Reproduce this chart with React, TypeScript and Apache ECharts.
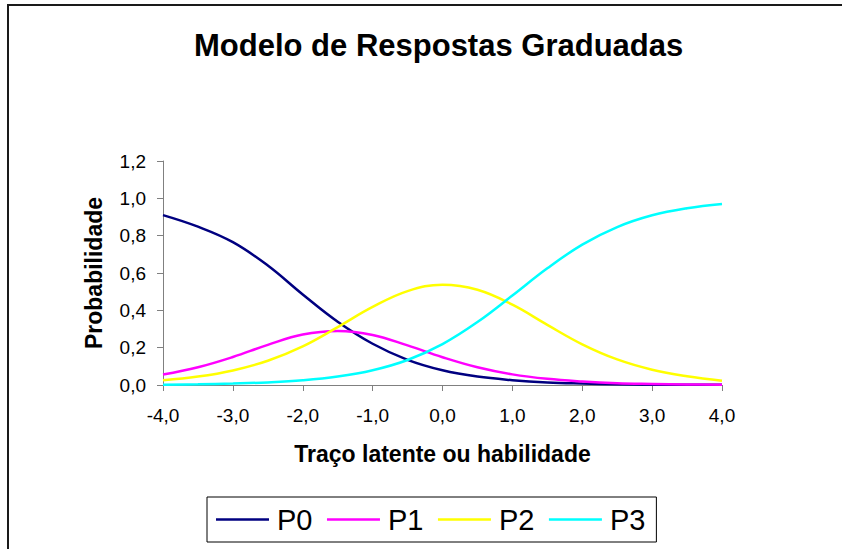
import React, { useEffect, useRef } from "react";
import * as echarts from "echarts";

const theta = [-4, -3.5, -3, -2.5, -2, -1.5, -1, -0.5, 0, 0.5, 1, 1.5, 2, 2.5, 3, 3.5, 4];
const p0 = [0.91, 0.848, 0.765, 0.64, 0.485, 0.339, 0.221, 0.135, 0.079, 0.045, 0.026, 0.014, 0.008, 0.004, 0.002, 0.001, 0.001];
const p1 = [0.056, 0.095, 0.15, 0.215, 0.27, 0.289, 0.268, 0.212, 0.149, 0.095, 0.057, 0.033, 0.019, 0.01, 0.006, 0.003, 0.002];
const p2 = [0.025, 0.045, 0.078, 0.13, 0.207, 0.31, 0.418, 0.503, 0.537, 0.51, 0.43, 0.322, 0.218, 0.137, 0.082, 0.047, 0.023];
const p3 = [0.002, 0.004, 0.008, 0.014, 0.025, 0.045, 0.079, 0.134, 0.219, 0.337, 0.479, 0.625, 0.752, 0.846, 0.909, 0.947, 0.97];

const seriesNames = ["P0", "P1", "P2", "P3"];
const seriesValues = [p0, p1, p2, p3];
const seriesColors = ["#000080", "#FF00FF", "#FFFF00", "#00FFFF"];

const titleText = "Modelo de Respostas Graduadas";
const xName = "Traço latente ou habilidade";
const yName = "Probabilidade";

const FONT = "'Liberation Sans', Arial, sans-serif";
const fmt = (v: number) => v.toFixed(1).replace(".", ",");

export default function App() {
  const ref = useRef<HTMLDivElement>(null);
  useEffect(() => {
    if (!ref.current) return;
    document.documentElement.style.overflow = "hidden";
    document.body.style.margin = "0";
    document.body.style.overflow = "hidden";
    const chart = echarts.init(ref.current, null, { renderer: "svg" });
    chart.setOption({
      animation: false,
      backgroundColor: "#ffffff",
      graphic: [
        {
          type: "line",
          shape: { x1: 7, y1: 5, x2: 842, y2: 5 },
          style: { stroke: "#1a1a1a", lineWidth: 2 },
          silent: true,
        },
        {
          type: "line",
          shape: { x1: 8, y1: 4, x2: 8, y2: 549 },
          style: { stroke: "#1a1a1a", lineWidth: 2 },
          silent: true,
        },
      ],
      title: {
        text: titleText,
        left: 194,
        top: 30,
        padding: 0,
        textStyle: { fontFamily: FONT, fontSize: 31, fontWeight: "bold", color: "#000" },
      },
      legend: {
        left: 207,
        top: 497,
        padding: [8, 11, 8, 9],
        itemGap: 14.5,
        itemWidth: 53,
        itemHeight: 2.5,
        icon: "rect",
        borderColor: "#000",
        borderWidth: 1,
        data: seriesNames,
        textStyle: { fontFamily: FONT, fontSize: 29, color: "#000", padding: [0, 0, 0, 3] },
      },
      grid: { left: 163, right: 120, top: 161, bottom: 164 },
      xAxis: {
        type: "value",
        min: -4,
        max: 4,
        interval: 1,
        name: xName,
        nameLocation: "middle",
        nameGap: 57,
        nameTextStyle: { fontFamily: FONT, fontSize: 23, fontWeight: "bold", color: "#000" },
        axisLine: { onZero: false, lineStyle: { color: "#808080", width: 1 } },
        axisTick: { show: true, length: 6, lineStyle: { color: "#808080" } },
        axisLabel: { formatter: fmt, margin: 21, fontFamily: FONT, fontSize: 19, color: "#000" },
        splitLine: { show: false },
      },
      yAxis: {
        type: "value",
        min: 0,
        max: 1.2,
        interval: 0.2,
        name: yName,
        nameLocation: "middle",
        nameGap: 58,
        nameRotate: 90,
        nameTextStyle: { fontFamily: FONT, fontSize: 23, fontWeight: "bold", color: "#000" },
        axisLine: { show: true, onZero: false, lineStyle: { color: "#808080", width: 1 } },
        axisTick: { show: true, length: 6, lineStyle: { color: "#808080" } },
        axisLabel: { formatter: fmt, margin: 17, fontFamily: FONT, fontSize: 19, color: "#000" },
        splitLine: { show: false },
      },
      series: seriesNames.map((name, i) => ({
        name,
        type: "line",
        data: theta.map((t, j) => [t, seriesValues[i][j]]),
        symbol: "none",
        smooth: 0.4,
        lineStyle: { color: seriesColors[i], width: 2.5 },
        itemStyle: { color: seriesColors[i] },
      })),
    });
    return () => chart.dispose();
  }, []);
  return (
    <div
      ref={ref}
      style={{ position: "absolute", left: 0, top: 0, width: 842, height: 549 }}
    />
  );
}
